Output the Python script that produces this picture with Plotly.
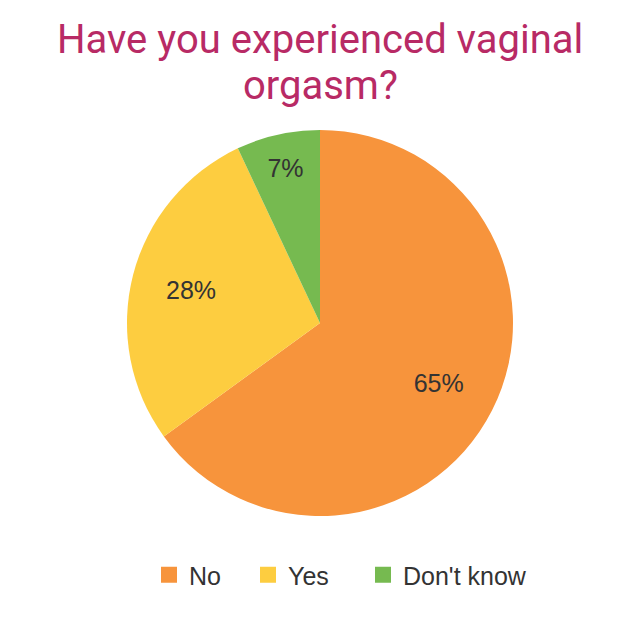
import plotly.graph_objects as go

labels = ["No", "Yes", "Don't know"]
values = [65, 28, 7]
colors = ["#f7943c", "#fdcd40", "#76ba50"]
title_lines = ["Have you experienced vaginal", "orgasm?"]
legend_marker_left = [159, 258, 373]  # page px of legend swatches

W = H = 640
OFF = 8  # page body margin of the html output

def fy(py):
    return 1 - (py - OFF) / H

def fx(px):
    return (px - OFF) / W

dom = dict(x=[fx(127), fx(513)], y=[fy(516), fy(130)])

fig = go.Figure()

# coloured pie
fig.add_trace(go.Pie(
    labels=labels, values=values, sort=False, direction="clockwise", rotation=0,
    marker=dict(colors=colors, line=dict(width=0)),
    textinfo="none", domain=dom, showlegend=False, hoverinfo="label+percent",
))
# transparent ring carrying the percentage labels further out from the centre
fig.add_trace(go.Pie(
    labels=labels, values=values, sort=False, direction="clockwise", rotation=0,
    hole=0.38,
    marker=dict(colors=["rgba(0,0,0,0)"] * len(labels), line=dict(width=0)),
    textinfo="percent", textposition="inside", insidetextorientation="horizontal",
    textfont=dict(family="Liberation Sans, Arial", size=25, color="#333333"),
    domain=dom, showlegend=False, hoverinfo="skip",
))

# legend entries (square swatches), one legend each for exact placement
legend_names = ["legend", "legend2", "legend3"]
for lab, col, lg in zip(labels, colors, legend_names):
    fig.add_trace(go.Scatter(
        x=[None], y=[None], mode="markers", name=lab,
        marker=dict(symbol="square", size=20, color=col),
        showlegend=True, legend=lg,
    ))

fig.update_xaxes(visible=False)
fig.update_yaxes(visible=False)

title_tops = [14, 60]
for line, top in zip(title_lines, title_tops):
    fig.add_annotation(
        text=line, xref="paper", yref="paper", x=fx(320), xanchor="center",
        y=fy(top), yanchor="top", showarrow=False,
        font=dict(family="Roboto", size=40, color="#b82a65"),
    )

legend_style = dict(orientation="h", yanchor="middle", y=fy(575), xanchor="left",
                    font=dict(family="Liberation Sans, Arial", size=25, color="#333333"),
                    bgcolor="rgba(0,0,0,0)")
layout_legends = {}
for lg, ml in zip(legend_names, legend_marker_left):
    layout_legends[lg] = dict(legend_style, x=fx(ml - 10))

fig.update_layout(
    width=W, height=H,
    margin=dict(l=0, r=0, t=0, b=0, autoexpand=False),
    paper_bgcolor="white",
    plot_bgcolor="white",
    showlegend=True,
    **layout_legends,
)

fig.write_html("out.html")
